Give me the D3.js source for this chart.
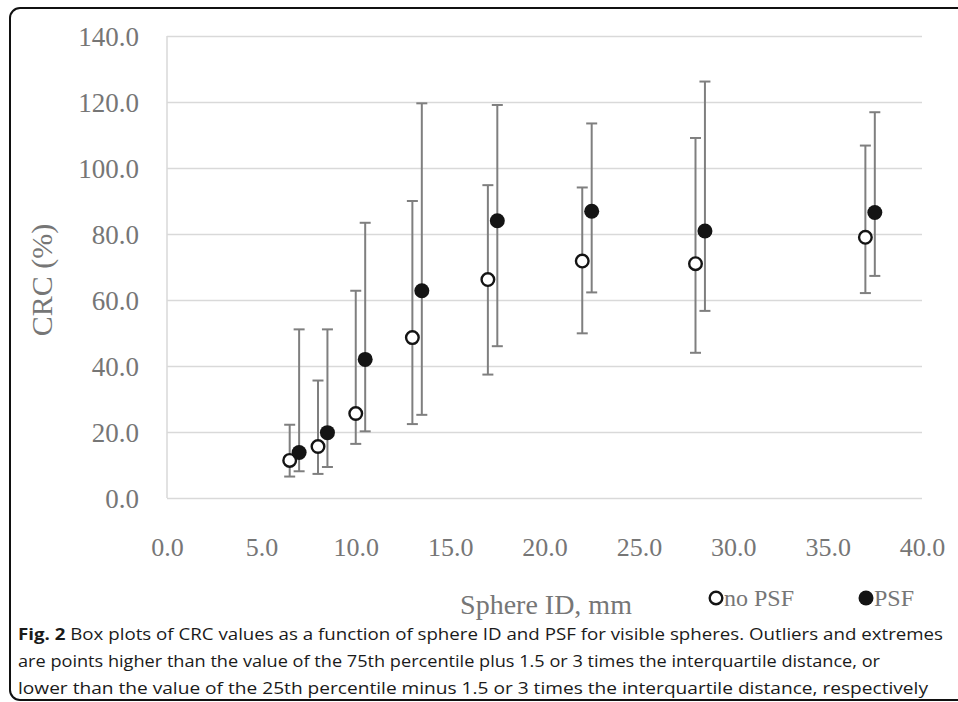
<!DOCTYPE html>
<html>
<head>
<meta charset="utf-8">
<script src="https://cdn.jsdelivr.net/npm/d3@7"></script>
<style>
  body { margin: 0; background: #fff; }
  svg { display: block; }
</style>
</head>
<body>
<script>
var w = 958;
var h = 702;

//Data
var xNoPsf = [6.5, 8, 10, 13, 17, 22, 28, 37];
var xPsf = [7, 8.5, 10.5, 13.5, 17.5, 22.5, 28.5, 37.5];
var noPsfMid = [11.4, 15.6, 25.6, 48.6, 66.2, 71.8, 71.0, 79.0];
var noPsfLow = [6.5, 7.3, 16.4, 22.4, 37.4, 49.9, 44.0, 62.1];
var noPsfHigh = [22.2, 35.6, 62.8, 90.0, 94.8, 94.1, 109.1, 106.8];
var psfMid = [13.8, 19.8, 42.0, 62.8, 84.0, 86.9, 80.9, 86.5];
var psfLow = [8.1, 9.4, 20.2, 25.2, 46.0, 62.3, 56.7, 67.3];
var psfHigh = [51.1, 51.1, 83.4, 119.6, 119.1, 113.5, 126.2, 116.9];
var xTicks = [0, 5, 10, 15, 20, 25, 30, 35, 40];
var yTicks = [0, 20, 40, 60, 80, 100, 120, 140];
var seriesNames = ["no PSF", "PSF"];
var captionLines = [
  "Box plots of CRC values as a function of sphere ID and PSF for visible spheres. Outliers and extremes",
  "are points higher than the value of the 75th percentile plus 1.5 or 3 times the interquartile distance, or",
  "lower than the value of the 25th percentile minus 1.5 or 3 times the interquartile distance, respectively"
];

var series = [
  { name: seriesNames[0], xs: xNoPsf, mid: noPsfMid, low: noPsfLow, high: noPsfHigh, filled: false },
  { name: seriesNames[1], xs: xPsf, mid: psfMid, low: psfLow, high: psfHigh, filled: true }
];

var plotL = 167, plotR = 922, plotT = 36, plotB = 498;
var serif = "'Liberation Serif', 'Times New Roman', serif";
var grey = "#767676";

var svg = d3.select("body")
            .append("svg")
            .attr("width", w)
            .attr("height", h);

//Frame around figure + caption
svg.append("rect")
  .attr("x", 10).attr("y", 8)
  .attr("width", 970).attr("height", 692)
  .attr("rx", 10)
  .attr("fill", "none")
  .attr("stroke", "#111")
  .attr("stroke-width", 2);

var x = d3.scaleLinear().domain([0, 40]).range([plotL, plotR]);
var y = d3.scaleLinear().domain([0, 140]).range([plotB, plotT]);

//Gridlines
var yGrid = svg.append("g")
  .attr("transform", "translate(" + plotL + ",0)")
  .call(d3.axisLeft(y).tickValues(yTicks).tickSize(-(plotR - plotL)).tickFormat(""));
yGrid.select(".domain").remove();
yGrid.selectAll("line").attr("stroke", "#d9d9d9").attr("stroke-width", 1.5);

svg.append("line")
  .attr("x1", plotL).attr("x2", plotL)
  .attr("y1", plotT).attr("y2", plotB)
  .attr("stroke", "#d9d9d9").attr("stroke-width", 1.5);

//Tick labels
var yAxis = svg.append("g")
  .attr("transform", "translate(" + (plotL - 28) + ",0)")
  .call(d3.axisLeft(y).tickValues(yTicks).tickSize(0).tickFormat(d3.format(".1f")));
yAxis.select(".domain").remove();
yAxis.selectAll("text")
  .attr("font-family", serif).attr("font-size", 27).attr("fill", grey)
  .attr("x", 0).attr("dy", "0.35em");

var xAxis = svg.append("g")
  .attr("transform", "translate(0," + (plotB + 38) + ")")
  .call(d3.axisBottom(x).tickValues(xTicks).tickSize(0).tickFormat(d3.format(".1f")));
xAxis.select(".domain").remove();
xAxis.selectAll("text")
  .attr("font-family", serif).attr("font-size", 26).attr("fill", grey)
  .attr("y", 0).attr("dy", "0.75em");

//Axis titles
svg.append("text")
  .attr("transform", "translate(52,280) rotate(-90)")
  .attr("text-anchor", "middle")
  .attr("font-family", serif).attr("font-size", 30).attr("fill", grey)
  .text("CRC (%)");

svg.append("text")
  .attr("x", 546).attr("y", 614)
  .attr("text-anchor", "middle")
  .attr("font-family", serif).attr("font-size", 28).attr("fill", grey)
  .text("Sphere ID, mm");

//Error bars
var capW = 5.5;
series.forEach(function(s) {
  var g = svg.append("g").attr("stroke", "#7f7f7f").attr("stroke-width", 2);
  var idx = d3.range(s.xs.length);
  g.selectAll(".stem").data(idx).enter().append("line")
    .attr("x1", function(i) { return x(s.xs[i]); })
    .attr("x2", function(i) { return x(s.xs[i]); })
    .attr("y1", function(i) { return y(s.low[i]); })
    .attr("y2", function(i) { return y(s.high[i]); });
  g.selectAll(".capHi").data(idx).enter().append("line")
    .attr("x1", function(i) { return x(s.xs[i]) - capW; })
    .attr("x2", function(i) { return x(s.xs[i]) + capW; })
    .attr("y1", function(i) { return y(s.high[i]); })
    .attr("y2", function(i) { return y(s.high[i]); });
  g.selectAll(".capLo").data(idx).enter().append("line")
    .attr("x1", function(i) { return x(s.xs[i]) - capW; })
    .attr("x2", function(i) { return x(s.xs[i]) + capW; })
    .attr("y1", function(i) { return y(s.low[i]); })
    .attr("y2", function(i) { return y(s.low[i]); });
});

//Markers
series.forEach(function(s) {
  svg.append("g").selectAll("circle")
    .data(d3.range(s.xs.length))
    .enter()
    .append("circle")
    .attr("cx", function(i) { return x(s.xs[i]); })
    .attr("cy", function(i) { return y(s.mid[i]); })
    .attr("r", s.filled ? 7.5 : 6.3)
    .attr("fill", s.filled ? "#141414" : "#fff")
    .attr("stroke", s.filled ? "none" : "#141414")
    .attr("stroke-width", 2.4);
});

//Legend
var legendX = [716, 866];
series.forEach(function(s, i) {
  svg.append("circle")
    .attr("cx", legendX[i]).attr("cy", 598)
    .attr("r", s.filled ? 7.5 : 6.3)
    .attr("fill", s.filled ? "#141414" : "#fff")
    .attr("stroke", s.filled ? "none" : "#141414")
    .attr("stroke-width", 2.4);
  svg.append("text")
    .attr("x", legendX[i] + 8).attr("y", 606)
    .attr("font-family", serif).attr("font-size", 24).attr("fill", grey)
    .text(s.name);
});

//Caption
var sans = "'Open Sans', 'Noto Sans', sans-serif";
var capLens = [925, 862, 910];
captionLines.forEach(function(line, i) {
  var t = svg.append("text")
    .attr("x", 18).attr("y", 640 + i * 27)
    .attr("font-family", sans).attr("font-size", 16.5).attr("fill", "#1a1a1a")
    .attr("textLength", capLens[i]).attr("lengthAdjust", "spacingAndGlyphs");
  if (i === 0) {
    t.append("tspan").attr("font-weight", "bold").text("Fig. 2");
    t.append("tspan").text(" " + line);
  } else {
    t.text(line);
  }
});
</script>
</body>
</html>
